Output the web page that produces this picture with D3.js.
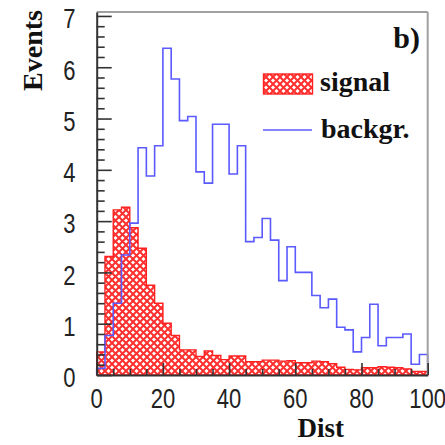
<!DOCTYPE html>
<html>
<head>
<meta charset="utf-8">
<script src="https://cdn.jsdelivr.net/npm/d3@7"></script>
<style>
  html, body { margin: 0; padding: 0; background: #fff; }
  svg { display: block; }
</style>
</head>
<body>
<svg id="chart" width="445" height="445"></svg>
<script>
// ---- data (40 bins of width 2.5 over 0..100) ----
const binStart = 0;
const binWidth = 2.5;
const signalValues = [
  0.45, 2.31, 3.22, 3.27, 2.87, 2.47, 1.75, 1.40, 1.01, 0.77,
  0.49, 0.49, 0.36, 0.47, 0.38, 0.30, 0.37, 0.37, 0.26, 0.26,
  0.29, 0.29, 0.27, 0.28, 0.24, 0.24, 0.27, 0.26, 0.22, 0.15,
  0.11, 0.10, 0.14, 0.14, 0.16, 0.15, 0.14, 0.12, 0.07, 0.07
];
const backgroundValues = [
  0.13, 0.77, 1.40, 2.34, 2.96, 4.43, 3.88, 4.47, 6.37, 5.77,
  4.96, 5.04, 3.96, 3.74, 4.89, 4.89, 3.92, 4.47, 2.60, 2.68,
  3.05, 2.63, 1.84, 2.50, 2.00, 2.00, 1.55, 1.31, 1.48, 0.93,
  0.88, 0.45, 0.73, 1.38, 0.57, 0.73, 0.73, 0.80, 0.21, 0.40
];
const xTickLabels = [0, 20, 40, 60, 80, 100];
const xMinorTicks = [5, 10, 15, 25, 30, 35, 45, 50, 55, 65, 70, 75, 85, 90, 95];
const yTickLabels = [0, 1, 2, 3, 4, 5, 6, 7];
const legendLabels = ["signal", "backgr."];
const xTitle = "Dist";
const yTitle = "Events";
const panelLabel = "b)";

// ---- layout ----
const svg = d3.select("#chart");
const pLeft = 96.7, pRight = 427.7, pTop = 12, pBottom = 375;
const x = d3.scaleLinear().domain([0, 100]).range([pLeft, pRight]);
const y = d3.scaleLinear().domain([0, 7.077]).range([pBottom, pTop]);

// pattern for signal fill
const defs = svg.append("defs");
const P = 7;
const pat = defs.append("pattern")
  .attr("id", "hatch").attr("patternUnits", "userSpaceOnUse")
  .attr("width", P).attr("height", P);
pat.append("rect").attr("width", P).attr("height", P).attr("fill", "#ffffff");
pat.append("path").attr("d", `M-1,${P+1} L${P+1},-1 M-1,1 L1,-1 M${P-1},${P+1} L${P+1},${P-1}`)
  .attr("stroke", "#ff3030").attr("stroke-width", 2);
pat.append("path").attr("d", `M-1,-1 L${P+1},${P+1} M${P-1},-1 L${P+1},1 M-1,${P-1} L1,${P+1}`)
  .attr("stroke", "#ff3030").attr("stroke-width", 2);

function stepPath(values) {
  const pts = [[binStart, 0]];
  values.forEach((v, i) => {
    const x0 = binStart + i * binWidth, x1 = x0 + binWidth;
    pts.push([x0, v]); pts.push([x1, v]);
  });
  pts.push([binStart + values.length * binWidth, 0]);
  return d3.line().x(d => x(d[0])).y(d => y(d[1]))(pts);
}

// signal histogram
svg.append("path").attr("d", stepPath(signalValues) + "Z")
  .attr("fill", "url(#hatch)").attr("stroke", "#ff2020").attr("stroke-width", 1.4);

// background histogram
svg.append("path").attr("d", stepPath(backgroundValues))
  .attr("fill", "none").attr("stroke", "#5a5aff").attr("stroke-width", 1.6);

// frame top/right
svg.append("line").attr("x1", pLeft).attr("x2", pRight).attr("y1", pTop).attr("y2", pTop)
  .attr("stroke", "#a0a0a0").attr("stroke-width", 2);
svg.append("line").attr("x1", pRight).attr("x2", pRight).attr("y1", pTop).attr("y2", pBottom)
  .attr("stroke", "#a0a0a0").attr("stroke-width", 2);

const tickFont = "'Liberation Sans', Arial, sans-serif";

// y axis
const yAxis = svg.append("g").attr("transform", `translate(${pLeft},0)`)
  .call(d3.axisLeft(y).tickValues(yTickLabels).tickFormat("")
    .tickSize(-15).tickSizeOuter(0));
const yMinor = [];
yTickLabels.slice(0, -1).forEach(t => { for (let k = 1; k < 5; k++) yMinor.push(t + k * 0.2); });
svg.append("g").attr("transform", `translate(${pLeft},0)`)
  .call(d3.axisLeft(y).tickValues(yMinor).tickFormat("").tickSize(-8).tickSizeOuter(0))
  .call(g => g.select(".domain").remove());

// x axis
const xAxis = svg.append("g").attr("transform", `translate(0,${pBottom})`)
  .call(d3.axisBottom(x).tickValues(xTickLabels).tickFormat("")
    .tickSize(-12).tickSizeOuter(0));
svg.append("g").attr("transform", `translate(0,${pBottom})`)
  .call(d3.axisBottom(x).tickValues(xMinorTicks).tickFormat("").tickSize(-6).tickSizeOuter(0))
  .call(g => g.select(".domain").remove());

svg.selectAll(".tick line").attr("stroke", "#333").attr("stroke-width", 1.6);
[xAxis, yAxis].forEach(a => a.select(".domain").attr("stroke", "#333").attr("stroke-width", 2));

// tick labels (tall, narrow look)
svg.append("g").selectAll("text").data(xTickLabels).join("text")
  .attr("transform", d => `translate(${x(d)},408) scale(1,1.25)`)
  .attr("text-anchor", "middle").attr("font-family", tickFont).attr("font-size", 22)
  .attr("fill", "#222").text(d => d);
svg.append("g").selectAll("text").data(yTickLabels).join("text")
  .attr("transform", d => `translate(75.5,${y(d) + 12.3}) scale(1,1.25)`)
  .attr("text-anchor", "end").attr("font-family", tickFont).attr("font-size", 22)
  .attr("fill", "#222").text(d => d);

// titles
const serif = "'Liberation Serif', 'Times New Roman', serif";
svg.append("text").attr("transform", "translate(41.5,10) rotate(-90)")
  .attr("text-anchor", "end").attr("font-family", serif).attr("font-weight", "bold")
  .attr("font-size", 28).attr("fill", "#111").text(yTitle);
svg.append("text").attr("x", 344).attr("y", 437).attr("text-anchor", "end")
  .attr("font-family", serif).attr("font-weight", "bold").attr("font-size", 27)
  .attr("fill", "#111").text(xTitle);
svg.append("text").attr("x", 420).attr("y", 48).attr("text-anchor", "end")
  .attr("font-family", serif).attr("font-weight", "bold").attr("font-size", 30)
  .attr("fill", "#111").text(panelLabel);

// legend
const lg = svg.append("g");
lg.append("rect").attr("x", 263.5).attr("y", 74).attr("width", 49).attr("height", 20)
  .attr("fill", "url(#hatch)").attr("stroke", "#ff2020").attr("stroke-width", 1.4);
lg.append("line").attr("x1", 263).attr("x2", 312).attr("y1", 130).attr("y2", 130)
  .attr("stroke", "#5a5aff").attr("stroke-width", 1.6);
lg.append("text").attr("x", 320).attr("y", 91).attr("font-family", serif)
  .attr("font-weight", "bold").attr("font-size", 28).attr("fill", "#111").text(legendLabels[0]);
lg.append("text").attr("x", 321).attr("y", 138).attr("font-family", serif)
  .attr("font-weight", "bold").attr("font-size", 28).attr("fill", "#111").text(legendLabels[1]);
</script>
</body>
</html>
